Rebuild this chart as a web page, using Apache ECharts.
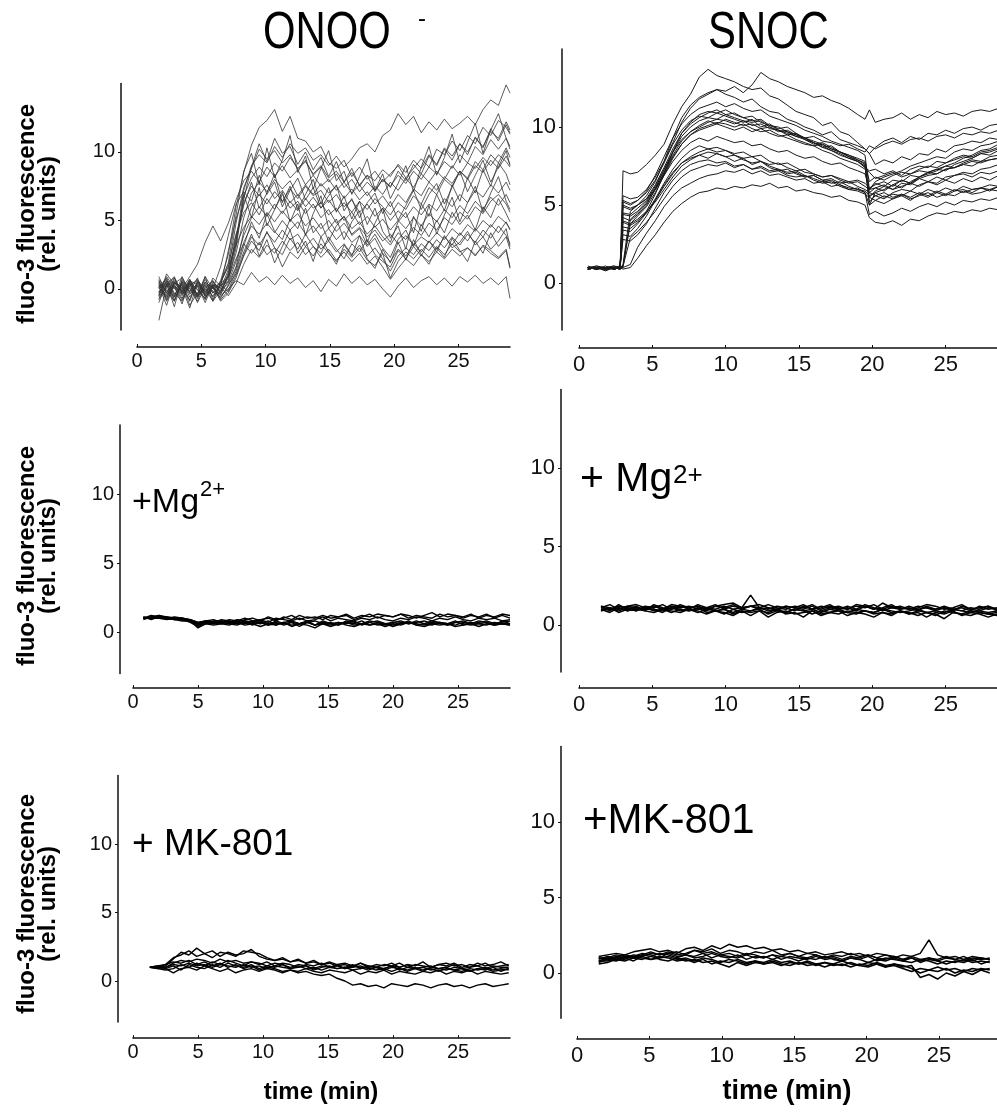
<!DOCTYPE html>
<html><head><meta charset="utf-8">
<script src="https://cdn.jsdelivr.net/npm/echarts@6.0.0/dist/echarts.min.js"></script>
<style>html,body{margin:0;padding:0;background:#fff}#c{width:997px;height:1112px}</style>
</head><body><div id="c"></div>
<script>
const yTicks=[0,5,10];
const xTicks=[0,5,10,15,20,25];

const onooTimes=[1.7,2.3,2.9,3.5,4.1,4.7,5.3,5.9,6.5,7.1,7.7,8.3,8.9,9.5,10.1,10.7,11.3,11.9,12.5,13.1,13.7,14.3,14.9,15.5,16.1,16.7,17.3,17.9,18.5,19.1,19.7,20.3,20.9,21.5,22.1,22.7,23.3,23.9,24.5,25.1,25.7,26.3,26.9,27.5,28.1,28.7,29.0];
const onooTraces=[
[0.3,-0.5,0.8,-0.2,0.5,-0.6,0.2,-0.3,0.6,2.5,6.0,8.5,10.5,11.8,12.3,13.1,11.5,12.6,11.0,10.8,10.0,10.4,9.2,8.8,9.4,8.2,8.9,8.0,8.6,7.8,8.4,9.0,8.1,8.8,9.5,8.9,10.2,9.8,10.8,10.1,11.2,10.6,11.8,11.2,12.3,11.8,11.3],
[-0.4,0.9,0.1,-0.8,0.4,0.0,-0.7,0.3,-0.2,1.0,3.5,7.2,9.0,9.8,9.2,10.4,9.6,10.6,9.9,10.3,9.4,9.8,9.0,9.7,8.9,9.5,10.3,10.6,10.0,11.2,11.6,12.8,12.0,12.6,11.4,12.2,11.6,12.4,11.7,12.1,12.6,12.0,13.1,13.8,13.4,14.9,14.3],
[0.5,-0.3,0.6,0.0,0.9,1.8,3.4,4.6,3.5,4.8,6.5,7.9,8.6,7.8,8.9,8.2,9.0,8.1,8.7,7.6,8.3,7.5,8.0,7.2,7.8,7.0,7.6,6.8,7.5,6.9,7.8,7.2,8.1,7.4,8.4,7.8,8.6,8.0,9.0,8.3,9.2,8.8,9.6,9.0,9.8,9.3,8.9],
[-1.0,0.4,-0.6,0.2,-0.8,0.5,-0.4,0.1,-0.5,0.0,0.6,0.3,1.2,0.5,0.9,0.3,1.0,0.4,0.8,0.1,0.6,-0.2,0.7,0.2,1.1,0.4,0.9,0.3,0.7,0.0,-0.6,0.2,0.8,0.1,0.6,0.9,0.3,0.8,0.2,0.9,0.5,1.0,0.4,0.8,0.3,0.9,-0.7],
[0.2,-1.2,0.5,-0.3,0.7,-0.5,0.3,-0.9,-0.1,0.8,2.2,3.3,2.6,3.4,2.5,3.0,1.6,2.7,2.2,3.1,2.4,3.3,2.6,2.0,2.9,2.3,3.0,2.1,1.7,2.6,0.8,2.0,2.7,2.2,2.9,2.3,3.1,2.5,3.3,2.7,3.0,2.4,3.2,2.8,2.3,2.9,1.6],
[-0.3,0.6,-0.8,0.4,-0.2,0.8,-0.6,0.1,0.4,1.8,4.0,5.6,6.3,5.4,6.6,5.8,6.9,5.9,6.4,5.5,6.2,5.2,5.8,4.8,5.3,4.4,4.9,4.0,4.6,3.8,3.2,4.1,3.6,4.5,3.9,4.8,4.3,5.2,4.7,5.6,5.1,6.0,5.5,6.4,6.9,6.2,5.6],
[0.6,-0.2,0.3,-0.7,0.5,-0.4,0.7,-0.3,0.2,0.9,2.6,5.2,7.0,7.8,7.1,8.0,7.3,7.9,6.8,7.6,6.9,7.7,7.0,7.5,6.6,7.3,6.5,7.1,6.2,6.8,6.0,6.9,6.3,7.3,6.8,7.8,7.2,8.2,7.7,8.6,8.0,9.0,8.5,9.4,8.8,9.7,9.1],
[-0.6,0.3,0.9,-0.4,0.1,-0.9,0.4,-0.2,-0.6,0.2,1.5,3.4,4.6,4.0,4.8,4.1,5.0,4.3,4.9,4.0,4.6,3.8,4.4,3.6,4.2,3.4,3.9,3.1,3.7,2.6,2.0,2.9,2.4,3.3,2.7,3.5,2.9,3.8,3.2,4.1,3.5,4.4,3.8,4.7,4.1,4.9,4.3],
[0.1,-0.7,0.4,0.8,-0.3,0.2,-0.8,0.5,0.0,1.4,4.8,7.4,8.8,10.2,9.5,10.1,9.2,9.8,8.7,9.3,8.4,9.0,8.1,8.6,7.8,8.5,7.6,8.3,7.9,8.7,8.2,9.1,8.5,9.4,8.8,9.8,9.1,10.3,9.7,10.6,10.0,11.0,10.4,11.5,11.0,12.2,11.6],
[-0.2,0.5,-0.4,0.3,-0.9,0.6,0.0,-0.5,0.3,0.5,2.0,3.9,5.2,6.0,5.3,6.2,5.5,6.4,5.7,6.6,5.9,6.3,5.4,5.9,5.0,5.6,4.7,5.3,4.5,5.1,4.3,5.0,4.4,5.2,4.6,5.5,4.9,5.8,5.2,6.1,5.5,6.4,5.8,6.7,6.1,6.9,6.3],
[0.4,-0.9,0.2,-0.5,0.6,-0.1,-0.7,0.2,-0.9,-0.3,0.8,2.5,3.8,3.2,4.1,3.4,4.3,3.6,4.0,3.1,3.7,2.9,3.5,2.7,3.3,2.5,3.2,2.4,3.0,2.2,1.3,2.4,3.0,2.5,3.3,2.8,3.6,3.0,3.8,3.2,4.0,3.4,4.3,3.7,4.6,3.9,3.3],
[0.0,0.7,-0.5,0.5,-0.6,0.3,-0.2,0.6,-0.3,1.2,3.6,6.3,7.5,6.8,7.6,6.6,7.2,6.3,6.9,6.0,6.7,5.9,6.5,5.7,6.3,5.6,6.4,5.8,6.6,6.0,5.4,6.3,5.8,6.8,6.2,7.4,6.9,8.0,7.5,8.6,8.1,9.3,8.7,9.8,9.2,10.3,9.6],
[-0.8,0.2,0.6,-0.1,0.4,-0.7,0.5,0.1,-0.4,0.6,3.0,6.8,8.1,8.9,8.2,9.2,8.6,9.6,8.8,9.4,8.3,8.9,7.8,8.4,7.4,8.0,7.1,7.8,7.2,8.0,7.5,8.3,7.7,8.6,8.0,8.9,8.4,9.3,8.8,9.8,9.2,10.4,9.8,10.9,10.2,11.0,10.4],
[0.7,0.0,-0.6,0.9,-0.2,0.4,-0.5,-0.1,0.5,1.6,3.2,4.5,5.3,4.7,5.6,4.9,5.7,5.0,5.5,4.6,5.2,4.4,5.0,4.2,4.8,4.0,4.5,3.8,4.3,3.5,4.0,3.3,3.9,3.2,3.8,3.4,4.1,3.6,4.4,3.9,4.7,4.2,5.0,4.5,5.3,4.8,4.4],
[-0.5,1.1,0.3,-0.4,0.2,0.7,-0.3,0.4,-0.1,0.4,1.6,4.2,6.0,6.9,6.2,7.1,6.4,7.3,6.6,7.5,6.8,7.2,6.3,6.9,6.0,6.5,5.6,6.2,5.3,5.9,5.0,5.7,5.2,6.0,5.4,6.2,5.7,6.6,6.0,6.9,6.3,7.2,6.7,7.6,7.0,7.8,7.2],
[-2.3,0.3,-0.9,0.6,-0.4,0.2,-1.0,0.3,0.1,-0.5,0.4,1.8,2.9,2.3,3.2,2.6,3.5,2.8,3.4,2.5,3.1,2.3,2.9,2.1,2.7,2.0,2.6,1.8,2.4,1.6,0.7,1.5,2.2,1.7,2.5,2.0,2.7,2.2,2.9,2.4,3.0,2.5,3.1,2.6,2.2,2.8,1.5],
[0.9,-0.4,0.2,-1.1,0.6,0.3,-0.5,0.8,0.2,2.8,5.1,6.9,5.2,7.4,4.6,5.8,7.1,4.9,6.2,3.9,5.5,6.8,4.4,5.1,3.6,4.9,5.7,3.4,4.8,5.9,3.7,4.6,2.9,5.3,4.2,6.1,4.0,5.4,6.7,4.9,6.3,7.5,5.6,7.0,8.2,6.4,5.8],
[-0.2,0.4,-1.3,0.7,0.0,-0.6,0.9,-0.8,0.5,1.9,5.4,8.6,9.9,7.6,10.3,8.1,9.4,11.2,8.5,9.7,7.3,8.8,10.1,7.9,8.6,6.9,8.2,9.5,7.2,8.4,6.6,7.7,9.0,7.1,8.9,10.4,8.3,9.6,11.3,9.2,10.7,12.1,9.9,11.6,12.8,11.0,10.2],
[0.6,-0.8,0.4,0.1,-1.4,0.5,-0.2,0.3,-0.7,0.3,1.1,2.7,4.0,2.4,3.6,1.9,3.1,4.3,2.6,3.5,2.0,3.8,2.7,1.8,3.2,2.4,3.9,2.2,1.5,2.9,1.9,3.4,2.1,3.6,2.5,1.8,3.0,2.3,3.7,2.8,2.0,3.5,2.6,4.1,3.1,3.8,2.9],
[-0.7,0.2,0.8,-0.3,0.4,-1.0,0.1,0.6,-0.4,1.0,3.9,6.1,7.8,5.9,7.0,8.4,6.3,7.5,5.8,6.9,8.0,6.2,7.4,5.6,6.8,5.1,6.4,4.7,5.9,4.2,3.4,4.9,5.6,4.1,6.2,5.3,6.9,5.7,7.6,6.4,8.1,7.0,8.7,7.5,9.2,8.4,7.6],
[0.4,-0.1,-0.9,0.5,0.2,-0.4,0.9,0.0,1.6,3.9,6.2,7.1,6.4,8.3,6.9,7.8,6.0,7.2,8.1,6.5,7.4,5.9,6.8,7.6,5.7,6.6,5.2,6.3,7.0,5.5,6.4,5.0,6.1,7.2,5.8,6.9,7.7,6.2,7.4,8.6,7.1,8.3,9.4,7.8,8.9,10.1,9.0],
[0.1,0.8,-0.3,-0.9,0.3,0.6,-0.4,0.2,-0.8,-0.1,1.3,3.1,4.9,3.7,5.5,4.2,3.6,5.1,4.4,5.9,4.1,4.8,3.5,4.6,5.3,3.9,4.4,3.2,4.0,3.0,2.3,3.6,4.3,3.1,4.7,3.8,5.0,4.1,5.6,4.7,5.4,4.3,6.0,5.2,6.6,5.5,4.9],
[0.3,-0.6,0.5,-0.2,0.7,-0.5,0.0,-0.9,0.4,0.9,3.3,6.6,8.9,10.6,9.3,11.0,9.9,10.4,9.1,10.0,8.7,9.6,8.2,9.3,7.8,8.8,7.5,8.3,7.1,8.0,7.4,8.6,7.9,9.1,8.4,9.7,9.0,10.2,9.4,10.6,9.8,11.1,10.3,11.7,10.8,12.0,11.4],
[-0.5,0.6,0.0,0.4,-1.2,-0.3,0.5,-0.6,0.3,-0.2,1.0,2.4,3.5,2.8,4.2,3.0,2.5,3.7,2.9,4.0,3.1,2.6,3.8,2.9,2.2,3.3,2.7,3.6,2.5,2.0,1.6,2.8,2.2,3.1,2.4,3.5,2.7,3.9,3.0,3.4,4.2,3.2,3.8,2.9,3.5,4.4,3.1]
];

const snocTimes=[0.6,1.2,1.8,2.4,2.8,3.0,3.5,4.0,4.6,5.2,5.8,6.4,7.0,7.6,8.2,8.8,9.4,10.0,10.6,11.2,11.8,12.4,13.0,13.6,14.2,14.8,15.4,16.0,16.6,17.2,17.8,18.4,19.0,19.5,19.8,20.2,20.8,21.4,22.0,22.6,23.2,23.8,24.4,25.0,25.6,26.2,26.8,27.4,28.0,28.6,29.2];
const snocTraces=[
[0.9,1.0,0.8,1.0,0.9,7.2,7.0,7.1,7.6,8.2,8.9,10.2,11.3,12.1,13.2,13.7,13.3,13.1,12.9,12.6,12.4,12.5,12.0,11.8,11.4,11.0,10.8,10.6,10.1,10.3,9.7,9.5,9.0,8.6,8.3,7.6,7.9,7.7,8.1,7.9,8.3,8.2,8.6,8.4,8.8,8.9,9.1,9.0,9.3,9.2,9.4],
[1.0,0.9,1.1,0.9,1.0,5.6,5.4,5.5,6.0,6.8,7.8,9.0,10.3,11.2,11.8,12.1,12.4,12.3,12.6,12.2,12.7,13.5,13.1,12.9,12.6,12.4,12.2,11.9,12.0,11.7,11.5,11.2,10.8,10.5,11.1,10.3,10.5,10.6,10.9,10.5,10.8,10.6,11.0,10.8,10.9,10.7,11.0,11.1,11.0,11.2,11.3],
[0.9,1.0,1.0,1.1,0.9,1.2,4.6,5.0,5.6,6.5,7.8,9.3,10.6,11.4,11.9,12.2,12.4,12.1,11.9,11.6,11.8,11.3,11.0,10.9,10.5,10.3,10.0,9.8,9.5,9.7,9.2,9.0,8.8,8.6,8.3,8.7,9.1,9.3,9.0,9.4,9.2,9.6,9.5,9.8,9.6,9.9,10.0,9.8,10.1,10.2,10.1],
[1.0,0.9,1.0,0.9,1.0,4.9,4.7,5.0,5.4,6.3,7.4,8.6,9.6,10.2,10.6,10.9,11.1,10.8,10.9,10.6,10.4,10.5,10.1,9.9,10.0,9.6,9.3,9.1,8.9,8.6,8.4,8.1,7.9,7.7,5.0,5.8,6.0,6.3,6.1,6.5,6.8,7.0,7.2,7.5,7.7,8.0,8.2,8.5,8.6,8.9,9.0],
[0.9,1.1,0.9,1.0,1.0,4.2,4.0,4.4,5.0,6.0,7.1,8.2,9.1,9.7,10.0,10.3,10.5,10.4,10.2,10.4,10.1,10.2,9.9,9.8,9.6,9.4,9.3,9.0,8.8,8.5,8.3,8.0,7.8,7.4,7.2,7.3,7.0,7.2,6.9,7.3,7.5,7.4,7.8,7.7,8.0,8.2,8.1,8.4,8.5,8.7,8.8],
[1.0,1.0,0.8,1.0,0.9,5.3,5.1,5.3,5.8,6.6,7.7,8.9,9.8,10.4,10.7,10.6,10.9,10.7,10.5,10.3,10.5,10.0,10.2,9.8,9.5,9.6,9.2,8.9,9.0,8.7,8.4,8.2,7.9,7.6,5.5,5.9,6.2,6.0,6.4,6.3,6.7,6.9,7.0,7.3,7.4,7.7,7.9,7.8,8.1,8.2,8.4],
[1.1,0.9,1.0,0.9,1.0,1.1,3.8,4.3,4.9,5.8,6.9,8.0,8.9,9.5,9.9,10.1,10.3,10.2,10.0,10.2,9.9,9.7,9.8,9.5,9.3,9.1,8.9,8.8,8.5,8.3,8.0,7.8,7.6,7.3,7.1,6.7,6.9,7.1,6.8,7.0,7.2,7.1,7.3,7.5,7.4,7.6,7.8,7.7,7.9,8.0,8.1],
[0.9,1.0,1.0,1.1,1.0,3.6,3.5,3.9,4.6,5.7,7.0,8.4,9.6,10.3,10.8,11.0,10.9,11.1,10.8,10.6,10.7,10.3,10.1,10.0,9.7,9.5,9.3,9.0,8.7,8.8,8.4,8.1,7.8,7.5,5.2,5.6,5.4,5.8,6.0,5.9,6.3,6.5,6.4,6.8,6.9,7.1,7.0,7.3,7.4,7.6,7.7],
[1.0,0.9,1.0,1.0,0.9,3.4,3.3,3.8,4.5,5.4,6.4,7.3,8.0,8.5,8.8,8.6,8.7,8.5,8.3,8.4,8.1,8.2,7.8,7.6,7.7,7.4,7.1,7.0,6.8,6.9,6.6,6.4,6.5,6.2,6.0,6.1,6.3,6.0,6.2,6.4,6.2,6.5,6.3,6.6,6.4,6.7,6.5,6.8,6.6,6.9,7.0],
[0.9,1.0,0.9,1.0,1.0,4.0,3.8,4.1,4.6,5.2,6.0,6.8,7.5,7.9,8.2,8.0,8.3,8.1,7.8,8.0,7.6,7.8,7.4,7.2,7.3,7.0,6.8,6.9,6.6,6.4,6.5,6.2,6.0,5.9,5.6,5.8,5.5,5.7,5.6,5.9,5.7,6.0,5.8,6.1,5.9,6.2,6.0,6.1,6.3,6.2,6.4],
[1.0,1.1,1.0,0.9,1.0,1.1,2.9,3.3,3.9,4.6,5.4,6.2,6.8,7.2,7.4,7.6,7.5,7.7,7.4,7.6,7.3,7.5,7.2,7.3,7.0,7.1,6.8,6.9,6.6,6.7,6.4,6.5,6.2,6.0,5.8,5.6,5.8,5.5,5.7,5.4,5.6,5.8,5.5,5.7,5.6,5.9,5.7,5.8,6.0,5.9,6.1],
[0.9,1.0,1.0,1.0,0.9,1.0,1.2,2.3,3.2,4.0,4.9,5.6,6.1,6.4,6.7,6.9,7.0,7.2,7.1,7.3,7.0,7.2,6.9,7.0,6.8,6.6,6.7,6.4,6.5,6.2,6.3,6.0,5.9,5.7,5.5,5.3,5.6,5.4,5.7,5.5,5.8,5.6,5.9,5.7,6.0,5.8,6.0,6.1,5.9,6.2,6.1],
[1.0,0.9,1.0,0.9,1.0,0.9,1.0,1.6,2.4,3.1,3.9,4.6,5.1,5.5,5.8,5.9,6.1,6.0,6.2,6.1,6.3,6.2,6.4,6.1,6.2,5.9,6.0,5.8,5.7,5.5,5.6,5.3,5.2,5.0,4.2,3.9,3.8,4.0,3.7,4.1,4.0,4.3,4.5,4.4,4.6,4.5,4.7,4.6,4.8,4.7,4.9],
[1.0,1.0,0.9,1.0,1.1,4.5,4.4,4.8,5.3,6.2,7.3,8.4,9.2,9.7,10.1,10.4,10.2,10.5,10.3,10.1,10.2,9.9,10.0,9.7,9.8,9.5,9.3,9.4,9.1,9.0,8.8,8.9,8.6,8.4,8.8,8.6,8.9,9.1,8.9,9.2,9.3,9.1,9.4,9.5,9.3,9.6,9.5,9.7,9.6,9.8,9.9],
[0.9,1.0,1.0,0.9,1.0,3.1,3.0,3.5,4.3,5.3,6.3,7.1,7.7,8.0,8.2,8.4,8.3,8.1,8.2,7.9,7.7,7.8,7.5,7.3,7.1,7.2,6.9,6.7,6.5,6.6,6.3,6.1,6.0,5.8,4.4,4.6,4.3,4.5,4.8,4.6,4.9,5.1,4.9,5.2,5.0,5.3,5.2,5.4,5.3,5.5,5.4],
[1.0,0.9,1.0,1.0,0.9,5.0,4.8,5.0,5.4,6.0,6.9,7.8,8.5,9.0,9.3,9.1,9.4,9.2,9.0,9.1,8.8,8.9,8.6,8.4,8.5,8.2,8.0,8.1,7.8,7.6,7.7,7.4,7.2,7.0,6.0,6.4,6.2,6.6,6.5,6.9,6.8,7.1,7.0,7.3,7.4,7.6,7.5,7.8,7.9,8.0,8.2],
[1.0,1.0,0.9,1.0,1.0,4.4,4.3,4.6,5.2,6.1,7.2,8.4,9.4,10.0,10.4,10.6,10.5,10.8,10.6,10.4,10.3,10.4,10.0,9.8,9.7,9.4,9.2,9.0,8.7,8.5,8.2,8.0,7.8,7.5,5.8,6.1,5.9,6.3,6.6,6.4,6.8,7.1,7.3,7.2,7.6,7.8,8.0,8.3,8.2,8.5,8.6],
[0.9,1.0,1.0,0.9,1.0,1.0,4.1,4.5,5.1,6.0,7.0,8.1,8.9,9.5,9.8,10.0,10.2,10.0,9.8,10.0,9.7,9.9,9.6,9.4,9.5,9.2,9.0,8.8,8.9,8.6,8.4,8.2,8.0,7.8,6.5,6.8,6.6,6.9,7.1,7.0,7.3,7.5,7.4,7.7,7.9,8.1,8.0,8.3,8.4,8.6,8.7],
[1.0,0.9,1.0,1.0,1.0,3.9,3.7,4.0,4.5,5.3,6.2,7.0,7.7,8.1,8.4,8.6,8.4,8.5,8.2,8.0,8.1,7.8,7.6,7.7,7.4,7.2,7.3,7.0,6.8,6.9,6.7,6.5,6.6,6.4,6.1,6.3,6.5,6.2,6.6,6.4,6.7,6.5,6.8,6.6,6.9,7.0,6.8,7.1,7.0,7.2,7.1],
[0.9,1.0,1.0,1.0,0.9,5.2,5.0,5.3,5.9,6.9,8.1,9.3,10.2,10.8,11.2,11.4,11.6,11.3,11.5,11.2,11.0,11.1,10.7,10.5,10.3,10.1,9.8,9.6,9.4,9.1,8.9,8.7,8.5,8.2,6.0,6.5,6.8,7.0,7.2,7.5,7.7,7.9,8.1,8.0,8.4,8.6,8.5,8.8,8.9,9.1,9.2],
[1.0,1.0,0.9,1.0,1.0,2.8,2.7,3.1,3.8,4.8,5.8,6.6,7.2,7.6,7.8,7.9,7.7,7.8,7.5,7.6,7.3,7.4,7.1,7.2,6.9,6.8,6.9,6.6,6.4,6.5,6.2,6.0,6.1,5.8,5.0,5.3,5.1,5.4,5.6,5.3,5.7,5.5,5.8,5.6,5.9,6.0,5.8,6.1,6.0,6.2,6.3]
];

const onooMgTimes=[0.8,1.4,2.0,2.6,3.2,3.8,4.4,5.0,5.6,6.2,6.8,7.4,8.0,8.6,9.2,9.8,10.4,11.0,11.6,12.2,12.8,13.4,14.0,14.6,15.2,15.8,16.4,17.0,17.6,18.2,18.8,19.4,20.0,20.6,21.2,21.8,22.4,23.0,23.6,24.2,24.8,25.4,26.0,26.6,27.2,27.8,28.4,29.0];
const onooMgTraces=[
[1.0,1.1,1.2,1.1,1.0,1.0,0.9,0.6,0.8,0.7,0.8,0.7,0.9,0.8,0.7,0.9,1.0,0.8,1.1,0.9,1.2,1.0,1.1,0.9,1.2,1.1,1.3,1.0,1.2,1.1,1.3,1.2,1.1,1.3,1.2,1.0,1.2,1.4,1.1,1.3,1.2,1.1,1.3,1.0,1.2,1.1,1.3,1.2],
[1.1,0.9,1.1,1.0,0.9,0.8,0.8,0.3,0.6,0.7,0.6,0.8,0.6,0.7,0.5,0.8,0.6,0.7,0.5,0.7,0.6,0.8,0.5,0.7,0.6,0.5,0.7,0.6,0.8,0.5,0.7,0.6,0.5,0.7,0.6,0.8,0.6,0.5,0.7,0.6,0.8,0.5,0.7,0.6,0.5,0.7,0.6,0.6],
[1.0,1.0,1.1,1.1,1.0,0.9,0.9,0.5,0.7,0.8,0.7,0.6,0.8,0.6,0.8,0.7,0.5,0.8,0.6,0.7,0.4,0.7,0.8,0.6,0.7,0.5,0.8,0.7,0.6,0.8,0.7,0.5,0.7,0.8,0.6,0.7,0.8,0.6,0.7,0.5,0.7,0.8,0.6,0.7,0.8,0.6,0.7,0.8],
[0.9,1.1,1.0,1.0,0.9,1.0,0.8,0.6,0.7,0.6,0.8,0.7,0.6,0.8,0.7,0.6,0.8,0.5,0.7,0.8,0.6,0.7,0.5,0.8,0.6,0.7,0.6,0.8,0.5,0.7,0.8,0.6,0.7,0.6,0.8,0.5,0.6,0.8,0.7,0.6,0.5,0.7,0.6,0.8,0.7,0.5,0.8,0.6],
[1.0,1.2,1.1,1.0,1.0,0.9,0.9,0.7,0.8,0.9,0.7,0.9,0.8,1.0,0.8,0.9,0.7,1.0,0.9,0.8,1.0,0.8,0.9,1.1,0.8,1.0,0.9,0.8,1.0,0.9,1.1,0.9,0.8,1.0,0.9,1.1,1.0,0.8,1.0,0.9,1.1,0.9,0.8,1.0,0.9,1.0,0.8,0.9],
[1.0,1.0,1.0,0.9,1.0,0.9,0.7,0.4,0.6,0.5,0.6,0.5,0.7,0.5,0.6,0.4,0.6,0.5,0.7,0.4,0.6,0.5,0.3,0.6,0.5,0.7,0.5,0.4,0.6,0.5,0.6,0.4,0.6,0.5,0.7,0.5,0.4,0.6,0.5,0.6,0.4,0.5,0.6,0.4,0.6,0.5,0.6,0.5],
[1.1,1.0,1.2,1.0,1.1,1.0,0.9,0.7,0.8,0.7,0.9,0.8,0.7,0.9,1.0,0.8,1.1,0.9,1.0,1.2,0.9,1.1,1.0,1.2,1.0,1.1,1.2,0.9,1.1,1.3,1.0,1.2,1.1,1.3,1.0,1.2,1.1,1.0,1.3,1.1,1.2,1.0,1.2,1.1,1.3,1.0,1.2,1.0],
[1.0,1.1,1.0,1.0,0.9,0.9,0.8,0.5,0.7,0.6,0.7,0.6,0.5,0.7,0.6,0.7,0.5,0.6,0.7,0.5,0.6,0.7,0.5,0.6,0.4,0.6,0.7,0.5,0.6,0.7,0.5,0.6,0.4,0.6,0.7,0.6,0.5,0.7,0.6,0.5,0.7,0.6,0.5,0.6,0.7,0.5,0.6,0.5]
];

const snocLowTimes=[1.5,2.1,2.7,3.3,3.9,4.5,5.1,5.7,6.3,6.9,7.5,8.1,8.7,9.3,9.9,10.5,11.1,11.7,12.3,12.9,13.5,14.1,14.7,15.3,15.9,16.5,17.1,17.7,18.3,18.9,19.5,20.1,20.7,21.3,21.9,22.5,23.1,23.7,24.3,24.9,25.5,26.1,26.7,27.3,27.9,28.5];
const snocMgTraces=[
[1.2,0.9,1.3,1.0,1.2,0.9,1.3,1.1,1.0,1.3,1.1,1.2,0.9,1.2,1.1,1.3,1.0,1.2,1.1,1.3,1.1,1.0,1.2,1.1,1.3,1.0,1.2,1.1,1.0,1.2,1.1,1.3,1.0,1.2,1.1,1.0,1.2,1.1,1.0,1.2,1.0,1.1,0.9,1.2,1.0,1.1],
[0.9,1.1,0.8,1.0,0.9,1.1,1.0,0.8,1.1,0.9,1.0,0.8,1.0,0.9,0.7,1.0,0.8,0.9,1.0,0.7,0.9,0.8,1.0,0.9,0.7,0.9,0.8,1.0,0.8,0.7,0.9,0.8,1.0,0.8,0.9,0.7,0.9,0.8,0.6,0.9,0.8,0.7,0.9,0.8,0.7,0.8],
[1.1,1.3,1.0,1.2,1.1,1.0,1.2,1.0,1.2,1.1,1.2,1.0,1.1,1.3,1.0,1.2,1.1,1.9,1.1,1.0,1.2,1.1,0.9,1.2,1.0,1.1,1.3,1.0,1.1,0.9,1.2,1.0,1.1,1.3,1.0,1.1,0.9,1.2,1.0,1.1,0.9,1.2,1.0,0.9,1.1,1.0],
[1.0,0.8,1.1,0.9,1.0,1.1,0.9,1.0,0.8,1.0,0.9,1.1,0.8,0.9,1.0,0.7,0.9,0.6,0.9,0.8,1.0,0.7,0.8,0.5,0.9,0.7,0.8,0.9,0.6,0.8,0.9,0.7,0.8,0.6,0.9,0.7,0.8,0.5,0.8,0.7,0.9,0.6,0.8,0.7,0.5,0.7],
[1.1,1.0,1.2,1.1,0.9,1.2,1.1,1.3,1.0,1.2,1.0,1.3,1.1,1.0,1.2,1.0,1.1,1.2,1.0,1.1,0.9,1.2,1.1,1.0,1.2,0.9,1.1,1.0,1.2,1.0,1.3,1.1,0.9,1.1,1.0,1.2,1.0,1.1,0.9,1.1,1.0,0.9,1.1,1.0,1.2,0.9],
[0.9,1.0,0.9,1.1,1.0,0.9,0.8,1.0,0.9,0.8,1.0,0.9,0.7,0.9,0.8,0.6,0.9,0.8,0.9,0.5,0.8,0.9,0.7,0.8,0.9,0.6,0.8,0.7,0.9,0.8,0.7,0.5,0.8,0.7,0.9,0.8,0.6,0.8,0.7,0.4,0.8,0.7,0.6,0.8,0.7,0.6],
[1.2,1.1,1.0,1.2,1.3,1.1,1.2,1.0,1.3,1.2,1.1,1.2,1.0,1.2,1.3,1.4,1.1,1.2,1.3,1.1,1.0,1.2,1.1,1.3,1.0,1.2,1.1,1.2,1.0,1.3,1.2,1.0,1.4,1.1,1.2,1.0,1.1,1.3,1.2,1.0,1.1,1.3,1.0,1.1,1.2,1.0],
[1.0,1.0,1.1,0.9,1.1,1.0,1.0,0.9,1.1,1.0,0.9,1.0,1.1,0.9,1.0,0.8,1.0,0.9,1.1,0.9,1.0,0.8,1.0,0.9,1.0,0.8,1.0,0.9,0.8,1.0,0.9,0.8,1.0,0.9,0.8,0.9,1.0,0.8,0.9,0.8,1.0,0.9,0.8,0.9,0.8,0.9]
];

const onooMkTimes=[1.3,1.9,2.5,3.1,3.7,4.3,4.9,5.5,6.1,6.7,7.3,7.9,8.5,9.1,9.7,10.3,10.9,11.5,12.1,12.7,13.3,13.9,14.5,15.1,15.7,16.3,16.9,17.5,18.1,18.7,19.3,19.9,20.5,21.1,21.7,22.3,22.9,23.5,24.1,24.7,25.3,25.9,26.5,27.1,27.7,28.3,28.9];
const onooMkTraces=[
[1.0,1.0,1.1,1.6,2.1,1.9,2.4,2.0,2.2,1.8,2.1,1.9,2.0,2.3,1.8,1.6,1.5,1.7,1.4,1.6,1.3,1.5,1.2,1.4,1.2,1.3,1.1,1.3,1.0,1.2,1.1,1.3,1.0,1.2,1.1,1.4,1.0,1.2,1.3,1.1,1.2,1.0,1.3,1.1,1.2,1.4,1.1],
[1.0,0.9,1.0,1.3,1.5,1.4,1.6,1.5,1.3,1.6,1.4,1.5,1.3,1.4,1.2,1.4,1.1,1.3,1.2,1.0,1.2,1.1,1.3,1.0,1.1,0.9,1.1,1.0,0.8,1.0,0.9,1.1,0.8,1.0,0.9,0.7,1.0,0.9,0.8,1.0,0.9,0.7,0.9,1.0,0.8,0.9,0.8],
[1.0,1.1,0.9,0.6,0.9,1.0,0.8,1.1,0.9,0.7,0.9,0.6,0.8,0.9,0.7,0.9,0.8,0.6,0.8,0.7,0.9,0.7,0.6,0.8,0.7,0.6,0.8,0.5,0.7,0.6,0.8,0.5,0.7,0.6,0.5,0.7,0.6,0.8,0.5,0.7,0.6,0.8,0.5,0.7,0.6,0.5,0.6],
[1.0,1.0,1.2,1.4,1.3,1.5,1.2,1.4,1.1,1.3,1.0,1.2,0.9,1.1,0.8,1.0,0.9,0.7,0.8,0.6,0.7,0.5,0.4,0.5,0.2,0.0,-0.3,-0.2,-0.4,-0.3,-0.5,-0.2,-0.3,-0.4,-0.2,-0.3,-0.5,-0.3,-0.2,-0.4,-0.3,-0.5,-0.3,-0.2,-0.4,-0.3,-0.2],
[1.0,1.1,1.2,1.7,1.9,2.2,1.8,2.0,1.7,2.1,2.0,1.8,2.2,2.1,2.0,1.7,1.5,1.6,1.4,1.5,1.3,1.4,1.2,1.3,1.1,1.2,1.0,1.3,1.1,1.0,1.2,1.1,1.3,1.0,1.2,1.1,1.0,1.2,1.1,1.3,1.0,1.2,1.1,1.3,1.0,1.1,1.2],
[1.0,1.0,1.0,1.2,1.1,1.3,1.1,1.2,1.0,1.2,1.1,1.0,1.2,1.0,1.1,0.9,1.1,1.0,0.9,1.1,0.9,1.0,0.8,1.0,0.9,1.0,0.8,0.9,1.0,0.8,0.9,0.7,0.9,0.8,1.0,0.8,0.9,0.7,0.9,0.8,0.7,0.9,0.8,0.9,0.7,0.8,0.9],
[1.0,0.9,0.8,0.9,1.2,1.0,1.3,1.1,1.4,1.2,1.5,1.3,1.1,1.4,1.3,1.1,1.3,1.2,1.0,1.2,1.1,0.9,1.1,1.0,1.2,0.9,1.0,1.1,0.9,1.0,0.8,1.0,0.9,0.7,0.9,1.0,0.8,0.9,1.0,0.8,0.9,0.7,0.9,0.8,1.0,0.7,0.9],
[1.0,1.0,0.9,1.1,0.8,1.2,1.0,0.9,1.2,1.0,1.3,1.1,1.0,1.2,0.9,1.1,1.0,1.2,0.9,1.0,1.1,0.8,1.0,1.1,0.9,1.0,1.2,0.9,1.1,1.0,0.9,1.1,1.0,1.2,0.9,1.0,1.1,0.9,1.0,1.2,0.9,1.0,1.1,0.9,1.1,1.0,1.0]
];

const snocMkTraces=[
[1.1,1.2,1.3,1.2,1.4,1.5,1.6,1.4,1.5,1.3,1.6,1.7,1.5,1.8,1.6,1.9,1.7,1.8,1.6,1.7,1.5,1.6,1.4,1.5,1.3,1.4,1.2,1.3,1.4,1.2,1.3,1.1,1.3,1.2,1.0,1.2,1.1,1.3,2.2,1.2,1.0,1.1,0.9,1.1,1.0,0.9],
[0.8,1.0,0.9,1.1,1.0,1.2,1.1,1.3,1.2,1.0,1.2,1.1,1.3,1.0,1.2,1.1,1.0,1.2,1.0,1.1,0.9,1.1,1.0,0.8,1.0,0.9,1.1,0.9,0.8,1.0,0.9,0.7,0.9,0.8,1.0,0.8,0.7,0.9,0.8,0.6,0.8,0.7,0.9,0.7,0.8,0.7],
[0.6,0.7,0.9,0.8,1.0,0.9,1.1,0.9,0.8,1.0,0.8,0.9,0.7,0.8,0.6,0.4,0.7,0.5,0.7,0.6,0.8,0.6,0.5,0.7,0.5,0.6,0.4,0.6,0.5,0.7,0.5,0.4,0.6,0.4,0.5,0.3,0.1,0.3,0.2,0.4,0.2,0.3,0.1,0.3,0.2,0.3],
[1.0,0.9,1.1,1.0,1.2,1.1,1.3,1.2,1.4,1.2,1.3,1.5,1.3,1.4,1.2,1.3,1.1,1.3,1.2,1.0,1.2,1.1,1.3,1.1,1.0,1.2,1.0,1.1,0.9,1.1,1.0,1.2,1.0,0.9,1.1,0.9,1.0,0.8,1.0,0.9,1.1,0.9,0.8,1.0,0.9,1.0],
[0.7,0.9,0.8,1.0,0.8,1.1,0.9,1.0,1.1,0.9,1.0,0.8,1.0,0.9,0.7,0.9,0.8,0.6,0.8,0.7,0.9,0.7,0.8,0.6,0.7,0.5,0.7,0.6,0.8,0.6,0.5,0.7,0.6,0.4,0.6,0.5,0.3,0.0,0.2,0.1,0.3,0.0,0.2,0.1,0.3,0.2],
[0.9,1.1,1.0,1.2,1.1,1.3,1.2,1.0,1.3,1.1,1.2,1.0,1.1,1.3,1.1,1.0,1.2,0.9,1.1,1.0,1.2,0.9,1.1,1.0,0.9,1.1,0.9,1.0,0.8,1.0,0.9,1.1,0.8,1.0,0.9,0.8,1.0,0.7,0.9,0.8,0.6,0.8,0.7,0.9,0.6,0.8],
[0.8,0.8,1.0,0.9,1.1,1.0,0.9,1.1,1.0,0.8,0.9,0.7,0.9,0.6,0.8,0.7,0.9,0.7,0.8,0.6,0.7,0.5,0.7,0.6,0.8,0.6,0.7,0.5,0.6,0.4,0.6,0.5,0.7,0.5,0.6,0.4,0.5,-0.3,-0.1,-0.4,0.0,-0.2,0.1,-0.1,0.2,0.0],
[1.0,1.0,1.2,1.1,1.0,1.2,1.4,1.2,1.3,1.4,1.2,1.5,1.4,1.6,1.3,1.5,1.4,1.2,1.4,1.3,1.5,1.2,1.3,1.1,1.3,1.2,1.0,1.2,1.1,1.3,1.1,1.2,1.0,1.2,1.1,0.9,1.1,0.9,1.0,0.8,1.0,0.9,1.1,0.8,1.0,0.9]
];

const FONT='"Liberation Sans", Arial, Helvetica, sans-serif';
const panels=[
 {times:onooTimes, traces:onooTraces, left:137, top:83.5, width:373, height:246.5, xmax:29, yOff:16, xOff:17, fs:20, xm:4, lw:0.8, color:'#333'},
 {times:snocTimes, traces:snocTraces, left:579, top:49, width:418, height:281, xmax:28.5, yOff:17, xOff:18, fs:22, xm:6, lw:1, color:'#1a1a1a'},
 {times:onooMgTimes, traces:onooMgTraces, left:133, top:425, width:377, height:248.4, xmax:29, yOff:13, xOff:14.6, fs:20, xm:4, lw:1.4, color:'#000'},
 {times:snocLowTimes, traces:snocMgTraces, left:579, top:389.5, width:418, height:282.6, xmax:28.5, yOff:18, xOff:16, fs:22, xm:6, lw:1.5, color:'#000'},
 {times:onooMkTimes, traces:onooMkTraces, left:133, top:775.5, width:377, height:246.6, xmax:29, yOff:15, xOff:16, fs:20, xm:4, lw:1.4, color:'#000'},
 {times:snocLowTimes, traces:snocMkTraces, left:577, top:746.5, width:420, height:271.8, xmax:29, yOff:16, xOff:20.7, fs:22, xm:6, lw:1.5, color:'#000'}
];

const grid=[], xAxis=[], yAxis=[], series=[];
panels.forEach((p,i)=>{
  grid.push({left:p.left, top:p.top, width:p.width, height:p.height, containLabel:false});
  xAxis.push({type:'value', gridIndex:i, min:0, max:p.xmax, offset:p.xOff,
    axisLine:{show:true, onZero:false, lineStyle:{color:'#111', width:1.6}},
    axisTick:{show:true, inside:true, length:3, customValues:xTicks, lineStyle:{color:'#111', width:1}},
    axisLabel:{show:true, customValues:xTicks, fontSize:p.fs, fontFamily:FONT, color:'#111', margin:p.xm},
    splitLine:{show:false}});
  yAxis.push({type:'value', gridIndex:i, min:-3, max:15, offset:p.yOff,
    axisLine:{show:true, onZero:false, lineStyle:{color:'#111', width:1.5}},
    axisTick:{show:true, inside:false, length:3, customValues:yTicks, lineStyle:{color:'#111', width:1}},
    axisLabel:{show:true, customValues:yTicks, fontSize:p.fs, fontFamily:FONT, color:'#111', margin:6},
    splitLine:{show:false}});
  p.traces.forEach(v=>{
    series.push({type:'line', xAxisIndex:i, yAxisIndex:i, symbol:'none', showSymbol:false, silent:true,
      animation:false, clip:true, lineStyle:{color:p.color, width:p.lw},
      data:v.slice(0,p.times.length).map((y,k)=>[p.times[k], y])});
  });
});

function txt(x,y,text,font,opts){
  opts=opts||{};
  return Object.assign({type:'text', x:x, y:y, z:100, silent:true,
    style:{text:text, font:font, fill:'#000', textAlign:opts.align||'left', align:opts.align||'left',
      textVerticalAlign:'middle', verticalAlign:'middle', lineHeight:opts.lh}}, opts.el||{});
}
const yLab='fluo-3 fluorescence\n(rel. units)';
const graphic=[
  txt(263,34,'ONOO','normal 51px '+FONT,{el:{scaleX:0.82}}),
  txt(418,19,'-','normal 24px '+FONT),
  txt(708,34,'SNOC','normal 51px '+FONT,{el:{scaleX:0.82}}),
  txt(38,214,yLab,'bold 24px '+FONT,{align:'center',lh:21,el:{rotation:Math.PI/2}}),
  txt(38,556,yLab,'bold 24px '+FONT,{align:'center',lh:21,el:{rotation:Math.PI/2}}),
  txt(38,904,yLab,'bold 24px '+FONT,{align:'center',lh:21,el:{rotation:Math.PI/2}}),
  txt(321,1092,'time (min)','bold 24px '+FONT,{align:'center'}),
  txt(787,1092,'time (min)','bold 27px '+FONT,{align:'center'}),
  txt(132,503,'+Mg','normal 34px '+FONT),
  txt(200,490,'2+','normal 22px '+FONT),
  txt(580,480,'+ Mg','normal 41px '+FONT),
  txt(673,476,'2+','normal 26px '+FONT),
  txt(132,845,'+ MK-801','normal 37px '+FONT),
  txt(583,821,'+MK-801','normal 42px '+FONT)
];

const chart=echarts.init(document.getElementById('c'),null,{renderer:'canvas'});
chart.setOption({backgroundColor:'#fff', animation:false, grid, xAxis, yAxis, series, graphic});
</script></body></html>
